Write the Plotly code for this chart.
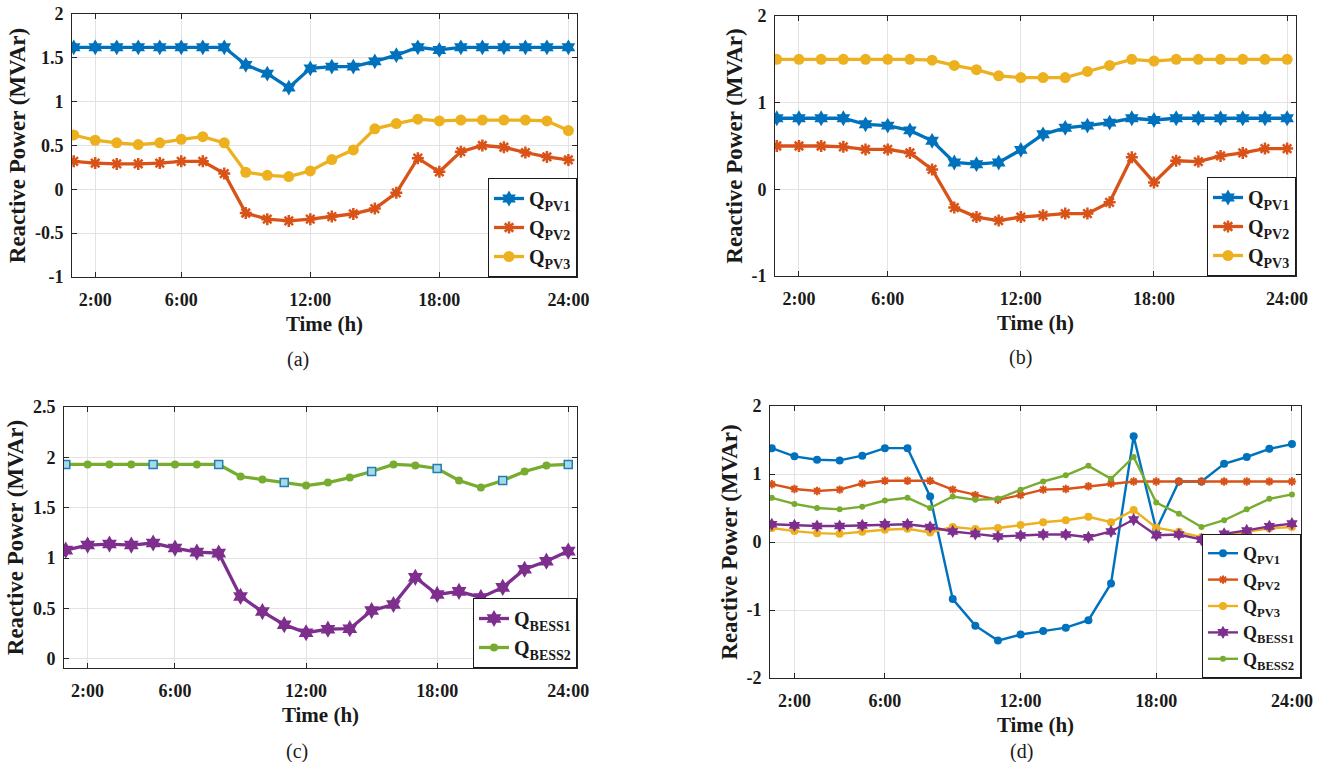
import plotly.graph_objects as go

# ---------------- data ----------------
hours = list(range(1, 25))

# (a)
a_pv1 = [1.62, 1.62, 1.62, 1.62, 1.62, 1.62, 1.62, 1.62, 1.42, 1.32, 1.16, 1.38,
         1.40, 1.40, 1.46, 1.53, 1.62, 1.59, 1.62, 1.62, 1.62, 1.62, 1.62, 1.62]
a_pv2 = [0.32, 0.30, 0.29, 0.29, 0.30, 0.32, 0.32, 0.18, -0.27, -0.34, -0.36, -0.34,
         -0.31, -0.28, -0.22, -0.04, 0.355, 0.20, 0.43, 0.50, 0.48, 0.42, 0.37, 0.335]
a_pv3 = [0.62, 0.56, 0.53, 0.51, 0.53, 0.57, 0.60, 0.53, 0.195, 0.16, 0.145, 0.21,
         0.34, 0.45, 0.69, 0.75, 0.80, 0.78, 0.79, 0.79, 0.79, 0.79, 0.78, 0.67]

# (b)
b_pv1 = [0.82, 0.82, 0.82, 0.82, 0.75, 0.735, 0.68, 0.56, 0.31, 0.29, 0.31, 0.455,
         0.635, 0.71, 0.735, 0.77, 0.82, 0.80, 0.82, 0.82, 0.82, 0.82, 0.82, 0.82]
b_pv2 = [0.50, 0.50, 0.50, 0.49, 0.46, 0.46, 0.42, 0.23, -0.21, -0.32, -0.36, -0.32,
         -0.30, -0.28, -0.28, -0.15, 0.37, 0.08, 0.33, 0.32, 0.385, 0.42, 0.47, 0.47]
b_pv3 = [1.50, 1.50, 1.50, 1.50, 1.50, 1.50, 1.50, 1.49, 1.43, 1.38, 1.31, 1.29,
         1.29, 1.29, 1.36, 1.43, 1.50, 1.48, 1.50, 1.50, 1.50, 1.50, 1.50, 1.50]

# (c)
c_bess1 = [1.08, 1.13, 1.14, 1.13, 1.15, 1.10, 1.06, 1.05, 0.62, 0.47, 0.34, 0.26,
           0.295, 0.30, 0.48, 0.54, 0.81, 0.64, 0.67, 0.61, 0.71, 0.89, 0.97, 1.07]
c_bess2 = [1.93, 1.93, 1.93, 1.93, 1.93, 1.93, 1.93, 1.93, 1.81, 1.78, 1.75, 1.72,
           1.75, 1.80, 1.86, 1.93, 1.92, 1.89, 1.77, 1.70, 1.77, 1.86, 1.92, 1.93]
c_square_hours = [1, 5, 8, 11, 15, 18, 21, 24]

# (d)
d_pv1 = [1.38, 1.26, 1.21, 1.20, 1.27, 1.38, 1.38, 0.67, -0.84, -1.23, -1.45, -1.36,
         -1.31, -1.26, -1.15, -0.61, 1.555, 0.18, 0.89, 0.89, 1.15, 1.25, 1.37, 1.44]
d_pv2 = [0.85, 0.78, 0.75, 0.77, 0.86, 0.90, 0.90, 0.90, 0.77, 0.69, 0.62, 0.69,
         0.77, 0.78, 0.82, 0.86, 0.89, 0.89, 0.89, 0.89, 0.89, 0.89, 0.89, 0.89]
d_pv3 = [0.205, 0.16, 0.13, 0.12, 0.15, 0.18, 0.195, 0.14, 0.22, 0.19, 0.205, 0.25,
         0.29, 0.32, 0.37, 0.29, 0.47, 0.21, 0.15, 0.07, 0.09, 0.15, 0.20, 0.22]
d_bess1 = [0.26, 0.245, 0.235, 0.235, 0.245, 0.26, 0.26, 0.22, 0.155, 0.12, 0.08, 0.095,
           0.11, 0.11, 0.07, 0.155, 0.33, 0.10, 0.11, 0.035, 0.12, 0.17, 0.23, 0.27]
d_bess2 = [0.65, 0.56, 0.50, 0.48, 0.52, 0.61, 0.65, 0.50, 0.67, 0.62, 0.635, 0.77,
           0.89, 0.98, 1.12, 0.93, 1.25, 0.58, 0.415, 0.22, 0.32, 0.48, 0.635, 0.70]

x_tick_vals = [2, 6, 12, 18, 24]
x_tick_text = ["2:00", "6:00", "12:00", "18:00", "24:00"]

# ---------------- style ----------------
W, H = 1329, 762
C_BLUE = "#0072BD"
C_ORANGE = "#D95319"
C_YELLOW = "#EDB120"
C_PURPLE = "#7E2F8E"
C_GREEN = "#77AC30"
FONT = "Liberation Serif, Times New Roman, serif"
TXT = "#1a1a1a"

def dom_x(l, r):
    return [l / W, r / W]

def dom_y(t, b):
    return [1 - b / H, 1 - t / H]

panels = {
    # name: (left, right, top, bottom)
    "a": (72, 577, 14, 277),
    "b": (775, 1296, 16, 276),
    "c": (64, 577, 407, 668),
    "d": (770, 1301, 406, 678),
}

fig = go.Figure()

def add(x, y, name, color, symbol, size, lw, axis, legend, showlegend=True,
        mline=None, mcolor=None):
    xa, ya = axis
    fig.add_trace(go.Scatter(
        x=x, y=y, name=name, mode="lines+markers",
        line=dict(color=color, width=lw),
        marker=dict(symbol=symbol, size=size, color=mcolor or color,
                    line=dict(color=color, width=mline if mline is not None else 0)),
        xaxis=xa, yaxis=ya, legend=legend, showlegend=showlegend,
    ))

def lbl(s):
    return "Q<sub>" + s + "</sub>"

# (a)
ax_a = ("x", "y")
add(hours, a_pv1, lbl("PV1"), C_BLUE, "hexagram", 12, 3.3, ax_a, "legend")
add(hours, a_pv2, lbl("PV2"), C_ORANGE, "asterisk-open", 10, 3.3, ax_a, "legend", mline=2.5)
add(hours, a_pv3, lbl("PV3"), C_YELLOW, "circle", 11, 3.3, ax_a, "legend")

# (b)
ax_b = ("x2", "y2")
add(hours, b_pv1, lbl("PV1"), C_BLUE, "hexagram", 12, 3.3, ax_b, "legend2")
add(hours, b_pv2, lbl("PV2"), C_ORANGE, "asterisk-open", 10, 3.3, ax_b, "legend2", mline=2.5)
add(hours, b_pv3, lbl("PV3"), C_YELLOW, "circle", 11, 3.3, ax_b, "legend2")

# (c)
ax_c = ("x3", "y3")
add(hours, c_bess1, lbl("BESS1"), C_PURPLE, "hexagram", 13, 3.3, ax_c, "legend3")
add(hours, c_bess2, lbl("BESS2"), C_GREEN, "circle", 8, 3.3, ax_c, "legend3")
sq_y = [c_bess2[h - 1] for h in c_square_hours]
fig.add_trace(go.Scatter(
    x=c_square_hours, y=sq_y, mode="markers", showlegend=False,
    marker=dict(symbol="square", size=8, color="#a9d9e6",
                line=dict(color="#1f7fb0", width=1.5)),
    xaxis="x3", yaxis="y3", hoverinfo="skip"))

# (d)
ax_d = ("x4", "y4")
add(hours, d_pv1, lbl("PV1"), C_BLUE, "circle", 8, 2.4, ax_d, "legend4")
add(hours, d_pv2, lbl("PV2"), C_ORANGE, "asterisk-open", 7, 2.4, ax_d, "legend4", mline=2)
add(hours, d_pv3, lbl("PV3"), C_YELLOW, "circle", 8, 2.4, ax_d, "legend4")
add(hours, d_bess1, lbl("BESS1"), C_PURPLE, "hexagram", 10, 2.4, ax_d, "legend4")
add(hours, d_bess2, lbl("BESS2"), C_GREEN, "circle", 6, 2.4, ax_d, "legend4")

# ---------------- axes ----------------
def xaxis_cfg(l, r, anchor):
    return dict(
        domain=dom_x(l, r), anchor=anchor, range=[0.92, 24.4], automargin=False,
        tickvals=x_tick_vals, ticktext=x_tick_text,
        showgrid=True, gridcolor="#e3e3e3", gridwidth=1, zeroline=False,
        showline=True, linecolor="#262626", linewidth=1, mirror="ticks",
        ticks="inside", ticklen=5, tickcolor="#262626",
        tickfont=dict(family=FONT, size=18, color=TXT, weight="bold"),
        ticklabelstandoff=6,
        title=dict(text="Time (h)", standoff=7,
                   font=dict(family=FONT, size=21, color=TXT, weight="bold")),
    )

def yaxis_cfg(t, b, anchor, rng, tv, tt):
    return dict(
        domain=dom_y(t, b), anchor=anchor, range=rng, automargin=False,
        tickvals=tv, ticktext=tt,
        showgrid=True, gridcolor="#e3e3e3", gridwidth=1, zeroline=False,
        showline=True, linecolor="#262626", linewidth=1, mirror="ticks",
        ticks="inside", ticklen=5, tickcolor="#262626",
        tickfont=dict(family=FONT, size=18, color=TXT, weight="bold"),
        ticklabelstandoff=4,
        title=dict(text="Reactive Power (MVAr)", standoff=2,
                   font=dict(family=FONT, size=23, color=TXT, weight="bold")),
    )

la, ra, ta, ba = panels["a"]
lb, rb, tb, bb = panels["b"]
lc, rc, tc, bc = panels["c"]
ld, rd, td, bd = panels["d"]

fig.update_layout(
    xaxis=xaxis_cfg(la, ra, "y"),
    yaxis=yaxis_cfg(ta, ba, "x", [-1, 2], [-1, -0.5, 0, 0.5, 1, 1.5, 2],
                    ["-1", "-0.5", "0", "0.5", "1", "1.5", "2"]),
    xaxis2=xaxis_cfg(lb, rb, "y2"),
    yaxis2=yaxis_cfg(tb, bb, "x2", [-1, 2], [-1, 0, 1, 2], ["-1", "0", "1", "2"]),
    xaxis3=xaxis_cfg(lc, rc, "y3"),
    yaxis3=yaxis_cfg(tc, bc, "x3", [-0.09, 2.5], [0, 0.5, 1, 1.5, 2, 2.5],
                     ["0", "0.5", "1", "1.5", "2", "2.5"]),
    xaxis4=xaxis_cfg(ld, rd, "y4"),
    yaxis4=yaxis_cfg(td, bd, "x4", [-2, 2], [-2, -1, 0, 1, 2],
                     ["-2", "-1", "0", "1", "2"]),
)

def legend_cfg(r, b, size=20):
    return dict(
        x=r / W, y=1 - b / H, xref="paper", yref="paper",
        xanchor="right", yanchor="bottom",
        bgcolor="white", bordercolor="#1a1a1a", borderwidth=1,
        font=dict(family=FONT, size=size, color=TXT, weight="bold"),
        tracegroupgap=0, itemwidth=30,
    )

fig.update_layout(
    legend=legend_cfg(ra, ba),
    legend2=legend_cfg(rb, bb),
    legend3=legend_cfg(rc, bc),
    legend4=legend_cfg(rd, bd, 18),
)

# panel labels
for txt, xp, yp in [("(a)", 298, 359), ("(b)", 1020, 357), ("(c)", 297, 751), ("(d)", 1021, 751)]:
    fig.add_annotation(text=txt, x=xp / W, y=1 - yp / H, xref="paper", yref="paper",
                       showarrow=False, xanchor="center", yanchor="middle",
                       font=dict(family=FONT, size=20, color=TXT))

fig.update_layout(
    template="none",
    font=dict(family=FONT, color=TXT),
    width=W, height=H, margin=dict(l=0, r=0, t=0, b=0, autoexpand=False),
    paper_bgcolor="white", plot_bgcolor="white",
    showlegend=True, hovermode=False,
)

fig.write_html(
    "out.html",
    config={"displayModeBar": False},
    post_script="document.body.style.margin='0';document.body.style.overflow='hidden';",
)
